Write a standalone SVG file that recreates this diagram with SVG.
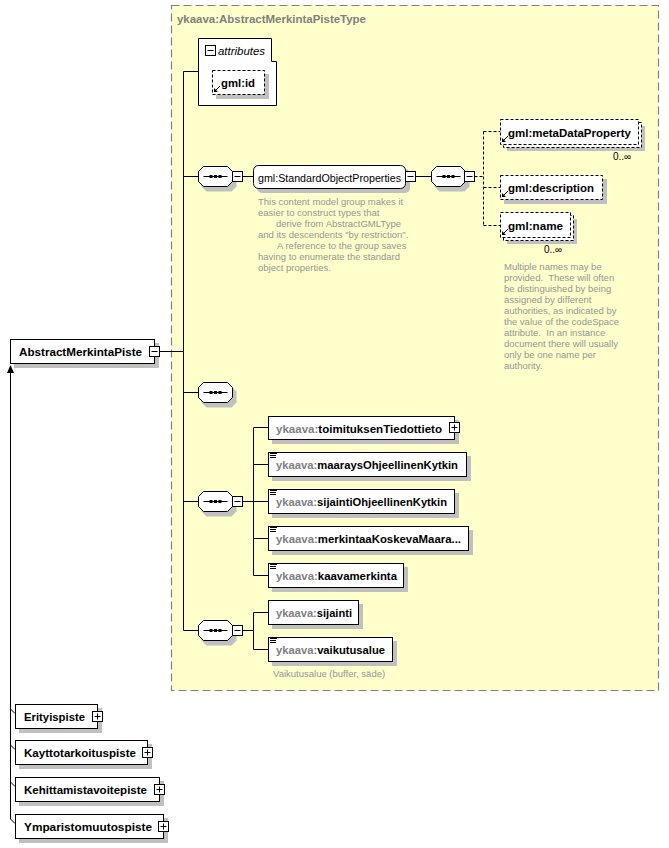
<svg xmlns="http://www.w3.org/2000/svg" width="669" height="848" viewBox="0 0 669 848">
<style>
.bg{fill:#FFFFFF}
.type{fill:#FFFFCC;stroke:#808080;stroke-width:1.2;stroke-dasharray:8,4}
.box{fill:#FFFFFF;stroke:#000000;stroke-width:1}
.dbox{fill:#FFFFFF;stroke:#000000;stroke-width:1;stroke-dasharray:3,2}
.sh{fill:#C0C0C0;stroke:none}
.ln{fill:none;stroke:#000000;stroke-width:1}
.dln{fill:none;stroke:#000000;stroke-width:1;stroke-dasharray:3,2}
.pm{fill:#FFFFFF;stroke:#000000;stroke-width:1}
.t{font-family:"Liberation Sans",Arial,sans-serif;font-size:11.5px;font-weight:bold;fill:#000000}
.pre{fill:#808080}
.title{font-family:"Liberation Sans",Arial,sans-serif;font-size:11.5px;font-weight:bold;fill:#808080}
.it{font-family:"Liberation Sans",Arial,sans-serif;font-size:11.5px;font-style:italic;fill:#000000}
.doc{font-family:"Liberation Sans",Arial,sans-serif;font-size:9.5px;fill:#969696;white-space:pre}
.occ{font-family:"Liberation Sans",Arial,sans-serif;font-size:10px;fill:#000000}
</style>
<defs>
<g id="minus"><rect class="pm" x="0" y="0" width="10" height="10"/><path class="ln" d="M2,5H8"/></g>
<g id="plus"><rect class="pm" x="0" y="0" width="10" height="10"/><path class="ln" d="M2,5H8M5,2V8"/></g>
<g id="seq"><path class="sh" d="M8,4H33L38,9V20L33,25H8L3,20V9Z"/><path class="box" d="M5,0H29L34,5V15L29,20H5L0,15V5Z"/><path class="ln" d="M5,10H29"/><rect x="11" y="8.5" width="3" height="3" fill="#000"/><rect x="15.5" y="8.5" width="3" height="3" fill="#000"/><rect x="20" y="8.5" width="3" height="3" fill="#000"/></g>
<g id="ref"><path class="ln" d="M2.5,-2.5L7,-7"/><path d="M1,-1V-5L5,-1Z" fill="#000"/></g>
<g id="elm"><path class="ln" d="M0,0.5H7M0,2.5H6M0,4.5H6"/></g>
</defs>
<rect class="bg" x="0" y="0" width="669" height="848"/>

<g id="complexType">
<rect class="type" x="171.5" y="5.5" width="487" height="685"/>
<text class="title" x="177" y="23" textLength="189" lengthAdjust="spacingAndGlyphs">ykaava:AbstractMerkintaPisteType</text>
</g>

<g id="connectors">
<path class="ln" d="M159.5,351.5H183.5M183.5,71.5V630.5M183.5,71.5H198.5"/>
<path class="ln" d="M183.5,176.5H198.5M242.5,176.5H253.5M415.5,176.5H431.5"/>
<path class="dln" d="M474.5,176.5H483.5M483.5,131.5V225.5M483.5,131.5H500.5M483.5,187.5H500.5M483.5,225.5H500.5"/>
<path class="ln" d="M183.5,392.5H198.5"/>
<path class="ln" d="M183.5,501.5H198.5M242.5,501.5H253.5M253.5,427.5V575.5M253.5,427.5H268.5M253.5,464.5H268.5M253.5,501.5H268.5M253.5,538.5H268.5M253.5,575.5H268.5"/>
<path class="ln" d="M183.5,630.5H198.5M242.5,630.5H253.5M253.5,612.5V649.5M253.5,612.5H268.5M253.5,649.5H268.5"/>
<path class="ln" d="M10.5,372V819M10.5,709L15,713.5M10.5,745L15,749.5M10.5,782L15,786.5M10.5,819L15,823.5"/>
<path d="M10.5,365L7,373H14Z" fill="#000"/>
</g>

<g id="AbstractMerkintaPiste">
<rect class="sh" x="14" y="343" width="145" height="25"/>
<rect class="box" x="10.5" y="339.5" width="144" height="24"/>
<text class="t" x="19" y="355.5" textLength="123" lengthAdjust="spacingAndGlyphs">AbstractMerkintaPiste</text>
<use href="#minus" x="149.5" y="346.5"/>
</g>

<g id="attributes">
<path class="box" d="M198.5,38.5H271.5V61.5H276.5V105.5H198.5Z"/>
<use href="#minus" x="205.5" y="45.5"/>
<text class="it" x="218" y="54.5" textLength="47" lengthAdjust="spacingAndGlyphs">attributes</text>
</g>

<g id="gml_id">
<rect class="sh" x="216" y="74" width="53" height="25"/>
<rect class="dbox" x="212.5" y="70.5" width="52" height="24"/>
<text class="t" x="221" y="86.5" textLength="34" lengthAdjust="spacingAndGlyphs">gml:id</text>
<use href="#ref" x="213" y="93"/>
</g>

<g id="seq1">
<use href="#seq" x="198.5" y="166.5"/>
<use href="#minus" x="232.5" y="171.5"/>
</g>

<g id="StandardObjectProperties">
<rect class="sh" x="257" y="169" width="153" height="24" rx="5"/>
<rect class="box" x="253.5" y="165.5" width="152" height="23" rx="5"/>
<text class="t" x="258" y="181.5" textLength="143" lengthAdjust="spacingAndGlyphs" style="font-weight:normal">gml:StandardObjectProperties</text>
<use href="#minus" x="405.5" y="171.5"/>
<text class="doc" x="258" y="205">This content model group makes it</text>
<text class="doc" x="258" y="216">easier to construct types that</text>
<text class="doc" x="276" y="227">derive from AbstractGMLType</text>
<text class="doc" x="258" y="238">and its descendents "by restriction".</text>
<text class="doc" x="277" y="249">A reference to the group saves</text>
<text class="doc" x="258" y="260">having to enumerate the standard</text>
<text class="doc" x="258" y="271">object properties.</text>
</g>

<g id="seq2">
<use href="#seq" x="431.5" y="166.5"/>
<use href="#minus" x="464.5" y="171.5"/>
</g>

<g id="gml_metaDataProperty">
<rect class="sh" x="507" y="126" width="138" height="25"/>
<rect class="dbox" x="503.5" y="122.5" width="138" height="25"/>
<rect class="dbox" x="500.5" y="119.5" width="138" height="25"/>
<text class="t" x="508" y="136.5" textLength="123" lengthAdjust="spacingAndGlyphs">gml:metaDataProperty</text>
<use href="#ref" x="501" y="143"/>
<text class="occ" x="613" y="160">0..∞</text>
</g>

<g id="gml_description">
<rect class="sh" x="504" y="179" width="103" height="25"/>
<rect class="dbox" x="500.5" y="175.5" width="102" height="24"/>
<text class="t" x="508" y="191.5" textLength="86" lengthAdjust="spacingAndGlyphs">gml:description</text>
<use href="#ref" x="501" y="198"/>
</g>

<g id="gml_name">
<rect class="sh" x="507" y="219" width="70" height="25"/>
<rect class="dbox" x="503.5" y="215.5" width="70" height="25"/>
<rect class="dbox" x="500.5" y="212.5" width="70" height="25"/>
<text class="t" x="508" y="229.5" textLength="55" lengthAdjust="spacingAndGlyphs">gml:name</text>
<use href="#ref" x="501" y="236"/>
<text class="occ" x="544" y="253">0..∞</text>
<text class="doc" x="504" y="269.5">Multiple names may be</text>
<text class="doc" x="504" y="280.5">provided.  These will often</text>
<text class="doc" x="504" y="291.5">be distinguished by being</text>
<text class="doc" x="504" y="302.5">assigned by different</text>
<text class="doc" x="504" y="313.5">authorities, as indicated by</text>
<text class="doc" x="504" y="324.5">the value of the codeSpace</text>
<text class="doc" x="504" y="335.5">attribute.  In an instance</text>
<text class="doc" x="504" y="346.5">document there will usually</text>
<text class="doc" x="504" y="357.5">only be one name per</text>
<text class="doc" x="504" y="368.5">authority.</text>
</g>

<g id="seq3">
<use href="#seq" x="198.5" y="382.5"/>
</g>

<g id="seq4">
<use href="#seq" x="198.5" y="491.5"/>
<use href="#minus" x="232.5" y="496.5"/>
</g>

<g id="toimituksenTiedottieto">
<rect class="sh" x="272" y="420" width="187" height="24"/>
<rect class="box" x="268.5" y="416.5" width="186" height="23"/>
<text class="t" x="276" y="432.5" textLength="166" lengthAdjust="spacingAndGlyphs"><tspan class="pre">ykaava:</tspan>toimituksenTiedottieto</text>
<use href="#plus" x="449.5" y="422.5"/>
</g>

<g id="maaraysOhjeellinenKytkin">
<rect class="sh" x="272" y="456" width="199" height="25"/>
<rect class="box" x="268.5" y="452.5" width="198" height="24"/>
<use href="#elm" x="270" y="453"/>
<text class="t" x="276" y="469" textLength="182" lengthAdjust="spacingAndGlyphs"><tspan class="pre">ykaava:</tspan>maaraysOhjeellinenKytkin</text>
</g>

<g id="sijaintiOhjeellinenKytkin">
<rect class="sh" x="272" y="493" width="187" height="25"/>
<rect class="box" x="268.5" y="489.5" width="186" height="24"/>
<use href="#elm" x="270" y="490"/>
<text class="t" x="276" y="506" textLength="171" lengthAdjust="spacingAndGlyphs"><tspan class="pre">ykaava:</tspan>sijaintiOhjeellinenKytkin</text>
</g>

<g id="merkintaaKoskevaMaara">
<rect class="sh" x="272" y="530" width="201" height="25"/>
<rect class="box" x="268.5" y="526.5" width="200" height="24"/>
<use href="#elm" x="270" y="527"/>
<text class="t" x="276" y="543" textLength="185" lengthAdjust="spacingAndGlyphs"><tspan class="pre">ykaava:</tspan>merkintaaKoskevaMaara...</text>
</g>

<g id="kaavamerkinta">
<rect class="sh" x="272" y="567" width="136" height="25"/>
<rect class="box" x="268.5" y="563.5" width="135" height="24"/>
<use href="#elm" x="270" y="564"/>
<text class="t" x="276" y="580" textLength="121" lengthAdjust="spacingAndGlyphs"><tspan class="pre">ykaava:</tspan>kaavamerkinta</text>
</g>

<g id="seq5">
<use href="#seq" x="198.5" y="620.5"/>
<use href="#minus" x="232.5" y="625.5"/>
</g>

<g id="sijainti">
<rect class="sh" x="272" y="604" width="91" height="25"/>
<rect class="box" x="268.5" y="600.5" width="90" height="24"/>
<text class="t" x="276" y="617" textLength="76" lengthAdjust="spacingAndGlyphs"><tspan class="pre">ykaava:</tspan>sijainti</text>
</g>

<g id="vaikutusalue">
<rect class="sh" x="272" y="641" width="125" height="25"/>
<rect class="box" x="268.5" y="637.5" width="124" height="24"/>
<use href="#elm" x="270" y="638"/>
<text class="t" x="276" y="654" textLength="109" lengthAdjust="spacingAndGlyphs"><tspan class="pre">ykaava:</tspan>vaikutusalue</text>
<text class="doc" x="273" y="677">Vaikutusalue (buffer, säde)</text>
</g>

<g id="Erityispiste">
<rect class="sh" x="19" y="708" width="83" height="25"/>
<rect class="box" x="15.5" y="704.5" width="82" height="24"/>
<text class="t" x="24" y="720.5" textLength="61" lengthAdjust="spacingAndGlyphs">Erityispiste</text>
<use href="#plus" x="92.5" y="711.5"/>
</g>

<g id="Kayttotarkoituspiste">
<rect class="sh" x="19" y="744" width="133" height="25"/>
<rect class="box" x="15.5" y="740.5" width="132" height="24"/>
<text class="t" x="24" y="756.5" textLength="112" lengthAdjust="spacingAndGlyphs">Kayttotarkoituspiste</text>
<use href="#plus" x="142.5" y="747.5"/>
</g>

<g id="Kehittamistavoitepiste">
<rect class="sh" x="19" y="781" width="145" height="25"/>
<rect class="box" x="15.5" y="777.5" width="144" height="24"/>
<text class="t" x="24" y="793.5" textLength="123" lengthAdjust="spacingAndGlyphs">Kehittamistavoitepiste</text>
<use href="#plus" x="154.5" y="784.5"/>
</g>

<g id="Ymparistomuutospiste">
<rect class="sh" x="19" y="818" width="149" height="25"/>
<rect class="box" x="15.5" y="814.5" width="148" height="24"/>
<text class="t" x="24" y="830.5" textLength="128" lengthAdjust="spacingAndGlyphs">Ymparistomuutospiste</text>
<use href="#plus" x="158.5" y="821.5"/>
</g>
</svg>
